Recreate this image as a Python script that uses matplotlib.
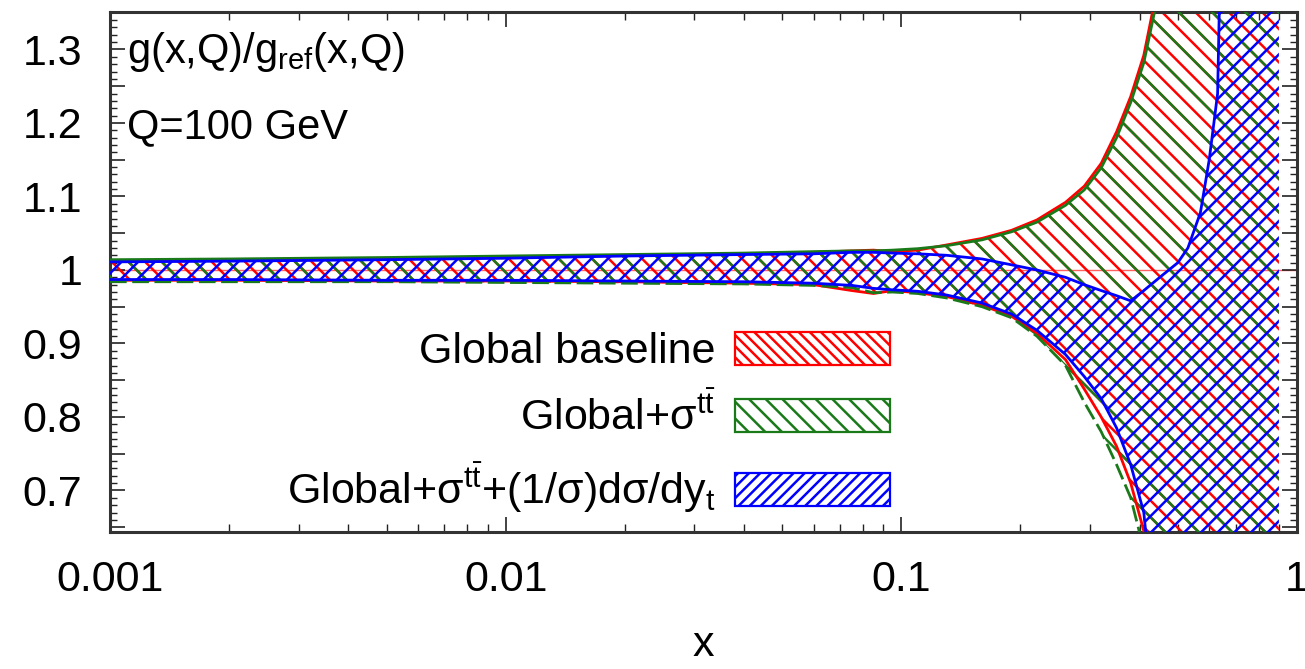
import matplotlib
matplotlib.use("Agg")
import matplotlib.pyplot as plt
from matplotlib.patches import Patch
from matplotlib.ticker import FixedLocator, FuncFormatter, LogLocator, MultipleLocator, NullFormatter

# ratio bands for the gluon, Q = 100 GeV
x_pts = [0.001, 0.002, 0.005, 0.01, 0.02, 0.04, 0.06, 0.075, 0.085, 0.095,
         0.11, 0.13, 0.16, 0.19, 0.22, 0.26, 0.29, 0.32, 0.35, 0.38,
         0.41, 0.45, 0.5, 0.53, 0.57, 0.6, 0.63, 0.65, 0.75, 0.9]

red_hi = [1.012, 1.013, 1.015, 1.017, 1.020, 1.022, 1.024, 1.026, 1.027, 1.025,
          1.027, 1.034, 1.043, 1.054, 1.068, 1.092, 1.114, 1.145, 1.188, 1.236,
          1.292, 1.400, 1.6, 1.6, 1.6, 1.6, 1.6, 1.6, 1.6, 1.6]
red_lo = [0.986, 0.986, 0.985, 0.985, 0.984, 0.982, 0.980, 0.972, 0.968, 0.972,
          0.969, 0.964, 0.952, 0.937, 0.914, 0.878, 0.838, 0.800, 0.760, 0.710,
          0.645, 0.420, 0.4, 0.4, 0.4, 0.4, 0.4, 0.4, 0.4, 0.4]

green_hi = [1.014, 1.015, 1.017, 1.019, 1.021, 1.023, 1.025, 1.026, 1.026, 1.027,
            1.029, 1.033, 1.041, 1.052, 1.065, 1.088, 1.109, 1.139, 1.180, 1.228,
            1.282, 1.385, 1.6, 1.6, 1.6, 1.6, 1.6, 1.6, 1.6, 1.6]
green_lo = [0.984, 0.984, 0.984, 0.983, 0.982, 0.981, 0.979, 0.976, 0.969, 0.970,
            0.968, 0.962, 0.950, 0.935, 0.910, 0.870, 0.820, 0.780, 0.735, 0.690,
            0.620, 0.400, 0.4, 0.4, 0.4, 0.4, 0.4, 0.4, 0.4, 0.4]

blue_hi = [1.011, 1.012, 1.014, 1.016, 1.019, 1.021, 1.022, 1.024, 1.024, 1.023,
           1.022, 1.020, 1.015, 1.007, 1.000, 0.990, 0.980, 0.972, 0.965, 0.958,
           0.972, 0.990, 1.010, 1.030, 1.078, 1.150, 1.240, 1.6, 1.6, 1.6]
blue_lo = [0.987, 0.987, 0.986, 0.986, 0.985, 0.984, 0.982, 0.979, 0.975, 0.973,
           0.971, 0.966, 0.955, 0.940, 0.918, 0.885, 0.855, 0.825, 0.785, 0.735,
           0.670, 0.450, 0.4, 0.4, 0.4, 0.4, 0.4, 0.4, 0.4, 0.4]

labels = ["Global baseline",
          r"Global+σ$^{t\bar{t}}$",
          r"Global+σ$^{t\bar{t}}$+(1/σ)dσ/dy$_{t}$"]

plt.rcParams["font.family"] = ["Liberation Sans", "DejaVu Sans"]
plt.rcParams["mathtext.fontset"] = "custom"
plt.rcParams["mathtext.rm"] = "Liberation Sans"
plt.rcParams["mathtext.it"] = "Liberation Sans"
plt.rcParams["mathtext.default"] = "regular"
plt.rcParams["hatch.linewidth"] = 1.8

fig = plt.figure(figsize=(13.05, 6.69), dpi=100)
ax = fig.add_axes([110 / 1305, 1 - 532 / 669, 1187 / 1305, 520 / 669])

ax.axhline(1.0, color="#ff6060", lw=1.0, zorder=1)

ax.fill_between(x_pts, red_lo, red_hi, facecolor="none", edgecolor="red",
                hatch="\\\\", linewidth=0, zorder=2)
ax.fill_between(x_pts, green_lo, green_hi, facecolor="none", edgecolor="#1a7a1a",
                hatch="\\", linewidth=0, zorder=3)
ax.fill_between(x_pts, blue_lo, blue_hi, facecolor="none", edgecolor="blue",
                hatch="//", linewidth=0, zorder=4)

ax.plot(x_pts, red_hi, color="red", lw=2, zorder=5)
ax.plot(x_pts, red_lo, color="red", lw=2, zorder=5)
ax.plot(x_pts, green_hi, color="#1a7a1a", lw=2, zorder=5)
ax.plot(x_pts, green_lo, color="#1a7a1a", lw=2, ls=(0, (6, 2)), zorder=5)
ax.plot(x_pts, blue_hi, color="blue", lw=2, zorder=6)
ax.plot(x_pts, blue_lo, color="blue", lw=2, zorder=6)

ax.set_xscale("log")
ax.set_xlim(0.001, 1)
ax.set_ylim(0.6435, 1.351)

ax.xaxis.set_major_locator(FixedLocator([0.001, 0.01, 0.1, 1]))
ax.xaxis.set_major_formatter(FuncFormatter(lambda v, p: f"{v:g}"))
ax.xaxis.set_minor_locator(LogLocator(base=10, subs=range(2, 10)))
ax.xaxis.set_minor_formatter(NullFormatter())

ax.yaxis.set_major_locator(MultipleLocator(0.05))
ax.yaxis.set_minor_locator(MultipleLocator(0.01))
ax.yaxis.set_major_formatter(FuncFormatter(
    lambda v, p: f"{v:g}" if abs(v * 10 - round(v * 10)) < 1e-6 else ""))

ax.tick_params(which="both", direction="in", top=True, right=True,
               labelsize=31, colors="#222222", labelcolor="black")
ax.tick_params(axis="y", which="major", length=11, width=1.2, pad=20)
ax.tick_params(axis="y", which="minor", length=5, width=1.0)
ax.tick_params(axis="x", which="major", length=11, width=1.2, pad=20)
ax.tick_params(axis="x", which="minor", length=6, width=1.0)
for s in ax.spines.values():
    s.set_linewidth(2.2)
    s.set_color("#333333")

ax.set_xlabel("x", fontsize=31, labelpad=18)

ax.text(0.0143, 0.902, r"g(x,Q)/g$_{ref}$(x,Q)", transform=ax.transAxes,
        fontsize=30, va="baseline", ha="left")
ax.text(0.0143, 0.758, "Q=100 GeV", transform=ax.transAxes,
        fontsize=30, va="baseline", ha="left")

handles = [Patch(facecolor="white", edgecolor="red", hatch="\\\\\\", lw=1.6),
           Patch(facecolor="white", edgecolor="#1a7a1a", hatch="\\\\", lw=1.6),
           Patch(facecolor="white", edgecolor="blue", hatch="///", lw=1.6)]
ax.legend(handles, labels, loc="upper right", bbox_to_anchor=(0.657, 0.385),
          frameon=False, markerfirst=False, fontsize=31, handlelength=3.6,
          handleheight=0.8, handletextpad=0.45, labelspacing=0.5,
          borderaxespad=0, borderpad=0)

fig.savefig("out.png", dpi=100)
